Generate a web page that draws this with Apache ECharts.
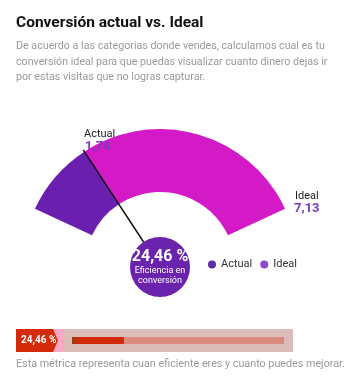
<!DOCTYPE html>
<html><head><meta charset="utf-8">
<script src="https://cdn.jsdelivr.net/npm/echarts@6/dist/echarts.min.js"></script>
<style>html,body{margin:0;padding:0;background:#fff}#c{width:352px;height:385px}</style>
</head><body><div id="c"></div>
<script>
// data
var categories = ['Actual', 'Ideal'];
var conversion = [1.74, 7.13];          // actual, ideal
var valueLabels = ['1,74', '7,13'];
var efficiency = 24.46;                  // %
var efficiencyLabel = '24,46 %';
var barMax = 100;

var FONT = 'Roboto, "Noto Sans", sans-serif';
var chart = echarts.init(document.getElementById('c'), null, {renderer: 'canvas'});

var option = {
  animation: false,
  textStyle: {fontFamily: FONT},
  title: {
    text: 'Conversión actual vs. Ideal',
    left: 16, top: 15, padding: 0,
    textStyle: {fontFamily: FONT, fontSize: 15.5, fontWeight: 'bold', color: '#111'}
  },
  legend: {
    left: 208, top: 259, padding: 0,
    icon: 'circle', itemWidth: 8, itemHeight: 8, itemGap: 8,
    textStyle: {fontFamily: FONT, fontSize: 11, color: '#333'},
    data: [
      {name: categories[0], itemStyle: {color: '#5b2ca6'}},
      {name: categories[1], itemStyle: {color: '#9048d0'}}
    ]
  },
  grid: {left: 72, top: 337, width: 212, height: 7},
  xAxis: {type: 'value', min: 0, max: barMax, show: false},
  yAxis: {type: 'category', data: ['e'], show: false},
  graphic: [
    {type: 'text', left: 16, top: 39, silent: true,
     style: {text: 'De acuerdo a las categorias donde vendes, calculamos cual es tu\nconversión ideal para que puedas visualizar cuanto dinero dejas ir\npor estas visitas que no logras capturar.',
             font: '10.7px ' + FONT, fill: '#9a9a9a', lineHeight: 15.5}},
    {type: 'text', left: 84, top: 129, z: 10,
     style: {text: categories[0], font: '11px ' + FONT, fill: '#222'}},
    {type: 'text', left: 85, top: 140, z: 10,
     style: {text: valueLabels[0], font: 'bold 13px ' + FONT, fill: '#7a3cc0'}},
    {type: 'text', left: 295, top: 191, z: 10,
     style: {text: categories[1], font: '11px ' + FONT, fill: '#222'}},
    {type: 'text', left: 294, top: 202, z: 10,
     style: {text: valueLabels[1], font: 'bold 13px ' + FONT, fill: '#7a3cc0'}},
    {type: 'rect', shape: {x: 16, y: 329, width: 277, height: 23}, z: -10, style: {fill: '#dcbcb9'}},
    {type: 'rect', shape: {x: 16, y: 329, width: 48, height: 23}, z: -9, style: {fill: '#f8a9c4'}},
    {type: 'polygon', shape: {points: [[16, 329], [53, 329], [58, 340.5], [53, 352], [16, 352]]}, z: 5, style: {fill: '#d42a0a'}},
    {type: 'text', left: 21, top: 335, z: 6,
     style: {text: efficiencyLabel, font: 'bold 10px ' + FONT, fill: '#fff'}},
    {type: 'text', left: 16, top: 359,
     style: {text: 'Esta métrica representa cuan eficiente eres y cuanto puedes mejorar.', font: '10.75px ' + FONT, fill: '#9a9a9a'}}
  ],
  series: [
    {
      type: 'pie', center: [160, 267], radius: [75, 138],
      startAngle: 155, endAngle: 25, clockwise: true,
      silent: true, label: {show: false}, labelLine: {show: false},
      emphasis: {disabled: true},
      data: [
        {name: categories[0], value: conversion[0], itemStyle: {color: '#6a1fae'}},
        {name: categories[1], value: conversion[1] - conversion[0], itemStyle: {color: '#d41ac6'}}
      ], z: 1
    },
    {
      type: 'gauge', center: [160, 267], radius: 140,
      startAngle: 155, endAngle: 25, min: 0, max: conversion[1],
      axisLine: {show: false}, splitLine: {show: false}, axisTick: {show: false},
      axisLabel: {show: false}, title: {show: false}, detail: {show: false},
      anchor: {show: false},
      pointer: {icon: 'rect', length: '100%', width: 1.5, itemStyle: {color: '#111'}},
      data: [{value: conversion[0]}], z: 3
    },
    {
      type: 'pie', center: [160, 267], radius: [0, 30], silent: true, z: 5,
      emphasis: {disabled: true}, labelLine: {show: false},
      label: {
        show: true, position: 'center',
        formatter: '{a|' + efficiencyLabel + '}\n{b|Eficiencia en}\n{b|conversión}',
        rich: {
          a: {fontFamily: FONT, fontSize: 16, fontWeight: 'bold', color: '#fff', lineHeight: 18},
          b: {fontFamily: FONT, fontSize: 9, color: '#fff', lineHeight: 10}
        }
      },
      data: [{name: 'eficiencia', value: 1, itemStyle: {color: '#6b22ad'}}]
    },
    {
      type: 'bar', barWidth: 7, silent: true, z: 2,
      itemStyle: {color: '#d98b7f'}, data: [barMax]
    },
    {
      type: 'bar', barWidth: 7, barGap: '-100%', silent: true, z: 3,
      itemStyle: {color: new echarts.graphic.LinearGradient(0, 0, 1, 0, [
        {offset: 0, color: '#9a3a12'}, {offset: 0.15, color: '#d22a0a'}, {offset: 1, color: '#d22a0a'}])},
      data: [efficiency]
    }
  ]
};
chart.setOption(option);
</script></body></html>
